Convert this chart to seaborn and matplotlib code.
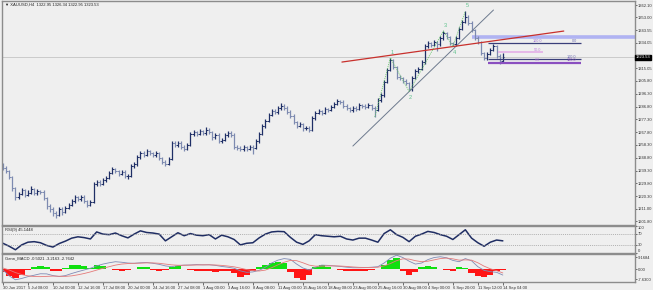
import numpy as np
import pandas as pd
import matplotlib
matplotlib.use("Agg")
import matplotlib.pyplot as plt
import matplotlib.transforms as mtransforms
import seaborn as sns

sns.set_theme(style="white")
plt.rcParams['font.family'] = ['Liberation Sans', 'DejaVu Sans']

# ---------------- data (8-hour bars) ----------------
first_open = 1243.0
closes = [1241.5, 1239.0, 1234.5, 1226.0, 1219.5, 1222.0, 1224.5, 1221.5, 1223.0, 1225.5,
          1222.5, 1224.0, 1223.5, 1219.0, 1213.0, 1210.5, 1208.0, 1206.5, 1211.0, 1208.5,
          1211.5, 1214.0, 1216.5, 1219.5, 1218.0, 1220.0, 1216.5, 1214.0, 1216.0, 1229.0,
          1231.0, 1229.5, 1232.5, 1234.0, 1237.5, 1240.5, 1239.0, 1237.0, 1238.5, 1235.0,
          1235.5, 1242.5, 1244.0, 1249.0, 1252.5, 1251.0, 1253.5, 1252.0, 1250.5, 1252.0,
          1248.5, 1246.0, 1244.5, 1248.0, 1259.5, 1258.0, 1260.0, 1257.0, 1255.5, 1258.5,
          1266.5, 1268.0, 1266.5, 1268.5, 1267.0, 1269.5, 1268.0, 1264.0, 1266.0, 1261.5,
          1262.0, 1265.5, 1267.5, 1266.0, 1256.5, 1256.0, 1255.0, 1256.5, 1255.5, 1257.0,
          1256.0, 1261.0, 1266.5, 1272.0, 1276.0, 1280.5, 1283.5, 1282.5, 1285.5, 1287.5,
          1286.0, 1283.0, 1280.0, 1275.0, 1272.5, 1273.5, 1270.5, 1271.0, 1269.5, 1278.0,
          1282.0, 1283.5, 1282.0, 1285.0, 1284.5, 1286.5, 1289.0, 1291.0, 1290.5, 1287.5,
          1285.5, 1284.0, 1286.0, 1285.0, 1288.0, 1287.0, 1286.5, 1288.0, 1286.0, 1284.5,
          1291.5, 1295.0, 1305.0, 1314.0, 1321.0, 1316.0, 1309.0, 1308.0, 1305.5, 1304.0,
          1299.5, 1308.0, 1313.5, 1315.0, 1319.5, 1331.5, 1334.0, 1332.5, 1334.5, 1333.0,
          1337.5, 1341.0, 1338.5, 1334.0, 1333.0, 1338.0, 1344.5, 1349.5, 1353.5, 1349.0,
          1343.5, 1338.0, 1334.5, 1326.5, 1322.5, 1326.0, 1329.0, 1331.5, 1324.5, 1320.5,
          1323.5]
highs = [1245.0, 1242.5, 1240.0, 1235.5, 1227.0, 1223.5, 1226.5, 1225.5, 1225.0, 1227.5,
         1226.5, 1225.5, 1225.0, 1224.5, 1220.0, 1214.5, 1212.0, 1209.5, 1212.5, 1212.0,
         1213.0, 1215.5, 1218.0, 1221.0, 1220.5, 1221.5, 1221.0, 1217.5, 1217.5, 1230.5,
         1232.5, 1232.0, 1234.0, 1235.5, 1239.0, 1242.0, 1241.5, 1240.0, 1240.0, 1239.5,
         1237.0, 1244.0, 1245.5, 1250.5, 1254.0, 1254.0, 1255.0, 1254.5, 1253.0, 1253.5,
         1253.0, 1249.5, 1247.0, 1249.5, 1261.0, 1261.0, 1261.5, 1261.0, 1258.0, 1260.0,
         1268.0, 1269.5, 1269.0, 1270.0, 1269.5, 1271.5, 1270.5, 1269.0, 1267.5, 1267.0,
         1263.5, 1267.0, 1269.0, 1268.5, 1267.0, 1258.0, 1257.5, 1258.0, 1257.5, 1258.5,
         1258.0, 1262.5, 1268.0, 1273.5, 1277.5, 1282.0, 1285.0, 1285.0, 1287.0, 1289.5,
         1288.5, 1287.0, 1284.0, 1281.0, 1276.0, 1275.0, 1274.5, 1272.5, 1272.0, 1279.5,
         1283.5, 1285.0, 1284.5, 1286.5, 1286.0, 1288.0, 1290.5, 1292.5, 1292.0, 1291.5,
         1288.5, 1286.5, 1287.5, 1287.0, 1289.5, 1289.0, 1288.5, 1289.5, 1289.0, 1287.0,
         1293.0, 1296.5, 1306.5, 1315.5, 1323.0, 1322.0, 1317.0, 1310.5, 1309.0, 1307.0,
         1305.0, 1309.5, 1315.0, 1316.5, 1321.0, 1333.0, 1335.5, 1335.0, 1336.0, 1335.5,
         1339.0, 1343.0, 1342.0, 1339.5, 1335.0, 1339.5, 1346.0, 1351.0, 1357.5, 1355.0,
         1350.0, 1344.5, 1339.0, 1335.5, 1327.5, 1327.5, 1330.5, 1333.0, 1332.5, 1325.5,
         1326.3]
lows = [1240.0, 1237.5, 1233.0, 1224.0, 1217.5, 1218.0, 1221.0, 1219.5, 1220.5, 1222.0,
        1221.0, 1221.5, 1222.0, 1217.5, 1211.0, 1208.5, 1205.5, 1204.0, 1205.5, 1206.5,
        1207.5, 1210.5, 1213.0, 1215.5, 1216.5, 1217.0, 1215.0, 1212.5, 1213.0, 1215.0,
        1227.5, 1228.0, 1228.5, 1231.0, 1233.0, 1236.5, 1237.5, 1235.5, 1236.0, 1233.5,
        1233.0, 1234.5, 1241.0, 1243.0, 1248.0, 1249.5, 1250.0, 1250.5, 1249.0, 1249.5,
        1247.0, 1244.5, 1242.5, 1243.5, 1247.0, 1256.5, 1257.0, 1255.5, 1254.0, 1254.5,
        1257.5, 1265.0, 1265.0, 1265.5, 1265.5, 1266.0, 1266.5, 1262.0, 1263.0, 1260.0,
        1259.5, 1261.0, 1264.5, 1264.5, 1255.0, 1254.5, 1253.5, 1254.0, 1254.0, 1254.5,
        1251.5, 1255.0, 1260.0, 1265.5, 1271.0, 1275.0, 1279.5, 1281.0, 1281.5, 1284.5,
        1284.5, 1281.5, 1278.5, 1273.5, 1271.0, 1271.5, 1269.0, 1269.5, 1268.0, 1268.5,
        1277.0, 1281.0, 1280.5, 1281.0, 1283.0, 1283.5, 1285.5, 1288.0, 1289.0, 1286.0,
        1284.0, 1282.5, 1283.0, 1283.5, 1284.0, 1285.5, 1285.0, 1285.5, 1284.5, 1279.0,
        1283.5, 1290.5, 1294.0, 1304.0, 1313.0, 1314.5, 1307.5, 1306.5, 1304.0, 1302.5,
        1298.0, 1298.5, 1307.0, 1312.0, 1314.0, 1318.5, 1330.0, 1331.0, 1331.5, 1328.0,
        1332.0, 1336.5, 1337.0, 1332.5, 1331.5, 1332.0, 1337.0, 1343.5, 1348.5, 1347.5,
        1342.0, 1336.5, 1333.0, 1325.0, 1321.0, 1321.5, 1325.0, 1328.0, 1323.0, 1318.5,
        1319.5]

# indicators, one value per 16 hours (every second bar)
rsi_vals = [36, 25, 12, 30, 40, 42, 38, 28, 22, 35, 44, 55, 60, 57, 52, 78, 70, 68, 74, 64,
            56, 70, 82, 76, 74, 70, 45, 60, 75, 64, 72, 66, 64, 68, 52, 66, 60, 50, 30, 36,
            38, 56, 70, 78, 80, 79, 58, 40, 32, 45, 68, 64, 62, 60, 62, 52, 48, 55, 55, 48,
            40, 72, 86, 68, 58, 42, 62, 70, 80, 76, 68, 62, 50, 68, 86, 55, 38, 25, 40, 48, 45]
macd_main = [-0.5, -5.0, -8.0, -7.0, -5.6, -4.5, -3.4, -3.5, -4.8, -5.5, -4.8, -3.2, -1.8, -0.5,
             0.8, 2.6, 4.0, 5.0, 5.8, 5.4, 4.8, 4.6, 5.0, 5.2, 4.6, 3.8, 2.6, 2.0, 2.8, 3.2,
             3.3, 3.6, 3.4, 3.5, 3.0, 2.2, 1.6, 0.8, -1.2, -2.3, -2.0, -0.8, 1.6, 4.8, 7.0,
             8.2, 7.6, 4.0, 1.0, -0.5, 1.5, 3.2, 3.0, 2.6, 2.2, 1.6, 1.2, 1.2, 1.3, 1.6, 2.0,
             4.8, 8.5, 10.8, 9.0, 6.2, 4.0, 4.8, 7.4, 9.0, 9.6, 8.8, 6.8, 5.8, 8.2, 6.5, 2.0,
             -0.8, -1.8, -2.3, -4.4]
macd_signal = [1.0, -0.5, -2.5, -4.0, -5.0, -5.5, -5.6, -5.4, -5.2, -5.3, -5.4, -5.0, -4.2,
               -3.2, -2.0, -0.6, 0.8, 2.0, 3.2, 4.0, 4.4, 4.6, 4.7, 4.9, 4.9, 4.6, 4.0, 3.4,
               3.1, 3.1, 3.2, 3.3, 3.4, 3.4, 3.3, 3.0, 2.5, 1.9, 0.9, -0.2, -1.0, -1.3, -0.6,
               1.2, 3.4, 5.4, 6.8, 6.6, 5.0, 3.2, 2.4, 2.4, 2.6, 2.6, 2.5, 2.2, 1.8, 1.5, 1.4,
               1.4, 1.6, 2.6, 4.4, 6.6, 8.0, 7.8, 6.6, 5.8, 6.2, 7.2, 8.2, 8.6, 8.0, 7.0, 7.2,
               7.0, 5.0, 2.4, 0.4, -1.0, -2.8]
macd_hist = [-2, -5, -6.5, -4, -0.5, 1.5, 2.5, 2.0, -1.0, -1.5, 1.0, 3.0, 3.3, 2.5, 1.0, 3.0,
             2.5, 0.5, -0.5, -1.0, -0.8, 0.3, 2.0, 1.8, -0.5, -1.2, -0.8, 2.0, 2.5, 0.5, -0.5,
             -1.0, -1.2, -1.5, -1.8, -1.2, -1.5, -3.0, -5.5, -4.0, -1.0, 2.0, 3.5, 5.0, 5.6,
             4.5, -2.0, -7.0, -8.5, -4.0, 2.0, 3.0, 2.0, 0.5, -0.5, -1.0, -1.5, -1.5, -1.0,
             -0.5, 0.5, 3.5, 7.0, 8.4, -1.5, -4.4, -2.0, 1.5, 2.5, 2.0, 0.5, -0.5, -1.0, 1.5,
             1.0, -2.5, -5.0, -5.6, -4.0, -1.5, -0.8]

# Elliott wave pivots (bar, price) and labels
wave_bar = [119, 124, 130, 141, 144, 148]
wave_price = [1279.0, 1323.0, 1298.0, 1343.0, 1331.5, 1357.5]
wave_labels = ["", "1", "2", "3", "4", "5"]

# trend lines (bar, price) endpoints
trend_gray_bar = [112, 157]
trend_gray_price = [1257.5, 1358.4]
trend_red_bar = [108.5, 179.5]
trend_red_price = [1319.8, 1342.8]

# horizontal levels
blue_zone_price = 1338.4
blue_zone_start = 150
fib_levels = [1333.9, 1327.2, 1322.0, 1319.1]
fib_start = [155.2, 158.4, 155.2, 155.2]
fib_end = [185.0, 172.8, 185.0, 185.0]
fib_colors = ["#3a3f7a", "#e4b4e8", "#3a3f7a", "#8a4fc0"]
fib_widths = [0.9, 1.3, 0.9, 1.6]
fib_text = [("100.0", 171, "#a070d0"), ("0.0", 183, "#6a6ab0"),
            ("50.0", 171, "#c080e0"), ("100.0", 182, "#6a6ab0"),
            ("0.0", 171, "#c080e0"), ("100.0", 182, "#8a4fc0")]
fib_text_level = [1333.9, 1333.9, 1327.2, 1322.0, 1319.1, 1319.1]

current_price = 1323.53

price_ticks = [1362.10, 1353.00, 1343.55, 1334.05, 1315.05, 1305.80, 1296.30, 1286.80,
               1277.30, 1267.80, 1258.30, 1248.80, 1239.30, 1229.80, 1220.30, 1211.00, 1201.80]
time_labels = ["30 Jun 2017", "5 Jul 08:00", "10 Jul 00:00", "12 Jul 16:00", "17 Jul 08:00",
               "20 Jul 00:00", "24 Jul 16:00", "27 Jul 08:00", "1 Aug 00:00", "3 Aug 16:00",
               "8 Aug 08:00", "11 Aug 00:00", "15 Aug 16:00", "18 Aug 08:00", "23 Aug 00:00",
               "25 Aug 16:00", "30 Aug 08:00", "4 Sep 00:00", "6 Sep 20:00", "11 Sep 12:00",
               "14 Sep 04:00"]
time_label_bars = [0, 8, 16, 24, 32, 40, 48, 56, 64, 72, 80, 88, 96, 104, 112, 120, 128,
                   136, 144, 152, 160]

# ---------------- figure ----------------
W, H = 653, 290
BG = "#efefef"
FR = "#8c8c8c"
FS = 3.0
fig = plt.figure(figsize=(W / 100, H / 100), dpi=100, facecolor=BG)


def pos(x0, y0, x1, y1):
    return [x0 / W, 1 - y1 / H, (x1 - x0) / W, (y1 - y0) / H]


ax = fig.add_axes(pos(2, 1, 635, 225))
ax_r = fig.add_axes(pos(2, 226, 635, 253), sharex=ax)
ax_m = fig.add_axes(pos(2, 254, 635, 282), sharex=ax)

for a in (ax, ax_r, ax_m):
    a.set_facecolor(BG)
    for s in a.spines.values():
        s.set_color(FR)
        s.set_linewidth(1.0)
    a.yaxis.tick_right()
    a.tick_params(axis='y', which='both', direction='out', length=1.5, width=0.5,
                  colors='#333333', labelsize=FS, pad=0.6)
    a.tick_params(axis='x', which='both', bottom=False, labelbottom=False)
    a.grid(False)

ax.set_xlim(-0.3, 202.3)

# ---------------- price bars ----------------
df = pd.DataFrame({"close": closes, "high": highs, "low": lows})
df["bar"] = np.arange(len(df))
df["open"] = [first_open] + closes[:-1]
up = df["close"] >= df["open"]
col_up, col_dn = "#1f2f66", "#7d8ab0"
for mask, c in ((up, col_up), (~up, col_dn)):
    d = df[mask]
    ax.vlines(d["bar"], d["low"], d["high"], color=c, lw=0.9)
    ax.hlines(d["open"], d["bar"] - 0.5, d["bar"], color=c, lw=0.7)
    ax.hlines(d["close"], d["bar"], d["bar"] + 0.5, color=c, lw=0.7)

ax.set_ylim(1198.9, 1365.1)
ax.set_yticks(price_ticks)
ax.set_yticklabels([f"{v:.2f}" for v in price_ticks])

# current price line + box
ax.axhline(current_price, color="#c4c4c4", lw=0.6, zorder=0)
trans = mtransforms.blended_transform_factory(ax.transAxes, ax.transData)
ax.text(1.001, current_price, f"{current_price:.2f}", transform=trans, fontsize=FS,
        color="white", va="center", ha="left",
        bbox=dict(boxstyle="square,pad=0.12", fc="black", ec="black"))

# trend lines
sns.lineplot(x=trend_gray_bar, y=trend_gray_price, ax=ax, color="#6d7a8e", lw=0.7)
sns.lineplot(x=trend_red_bar, y=trend_red_price, ax=ax, color="#c8302c", lw=0.9)

# Elliott wave
sns.lineplot(x=wave_bar, y=wave_price, ax=ax, color="#62c462", lw=0.55,
             linestyle=(0, (1.5, 1.2)), sort=False)
for b, p, lab in zip(wave_bar, wave_price, wave_labels):
    if not lab:
        continue
    off = -4.5 if lab in ("2", "4") else 4.0
    ax.text(b + 0.5, p + off, lab, color="#5cc08a", fontsize=4.0, ha="center", va="center")

# blue zone and fib levels
ax.hlines(blue_zone_price, blue_zone_start, 202.3, color="#b0b3f2", lw=2.6, zorder=1)
for lv, s, e, c, w in zip(fib_levels, fib_start, fib_end, fib_colors, fib_widths):
    ax.hlines(lv, s, e, color=c, lw=w)
for (t, b, c), lv in zip(fib_text, fib_text_level):
    ax.text(b, lv + 0.4, t, color=c, fontsize=2.7, ha="center", va="bottom")

# ---------------- RSI ----------------
ind_bar = np.arange(0, len(closes), 2)
sns.lineplot(x=ind_bar, y=rsi_vals, ax=ax_r, color="#1f2d63", lw=1.1)
for lv in (70, 30):
    ax_r.axhline(lv, color="#9a9a9a", lw=0.5, linestyle=(0, (1.5, 1.5)))
ax_r.set_ylim(0, 100)
ax_r.set_yticks([100, 70, 30, 0])
ax_r.set_yticklabels(["100", "70", "30", "0"])
for lab, va in zip(ax_r.get_yticklabels(), ["top", "center", "center", "bottom"]):
    lab.set_va(va)
ax_r.set_ylabel("")
ax_r.text(0.004, 0.93, "RSI(9) 45.1448", transform=ax_r.transAxes, fontsize=FS,
          color="#222222", va="top", ha="left")

# ---------------- MACD ----------------
hist_colors = ["#10e010" if v >= 0 else "#ff1515" for v in macd_hist]
ax_m.bar(ind_bar, macd_hist, width=2.0, color=hist_colors, edgecolor="none")
sns.lineplot(x=ind_bar, y=macd_main, ax=ax_m, color="#7f8bb5", lw=0.6)
sns.lineplot(x=ind_bar, y=macd_signal, ax=ax_m, color="#e47a7a", lw=0.6)
ax_m.set_ylim(-9.7, 11.7)
ax_m.set_yticks([9.1684, 0.0, -7.63])
ax_m.set_yticklabels(["9.1684", "0.00", "-7.6300"])
ax_m.set_ylabel("")
ax_m.text(0.004, 0.93, "Gann_MACD -0.5021 -3.2163 -2.7642", transform=ax_m.transAxes,
          fontsize=FS, color="#222222", va="top", ha="left")

# time axis
ax_m.set_xticks(time_label_bars)
ax_m.set_xticklabels(time_labels)
ax_m.tick_params(axis='x', bottom=True, labelbottom=True, direction='out', length=2,
                 width=0.5, labelsize=FS, pad=0.8, colors='#333333')
for lab in ax_m.get_xticklabels():
    lab.set_ha("left")
ax.set_xlim(-0.3, 202.3)

# title
fig.text(5 / W, 1 - 5 / H, "\u25bc XAUUSD,H4  1322.95 1326.34 1322.95 1323.53",
         fontsize=FS, color="#222222", va="center", ha="left")

fig.savefig("out.png", dpi=100, facecolor=BG)
